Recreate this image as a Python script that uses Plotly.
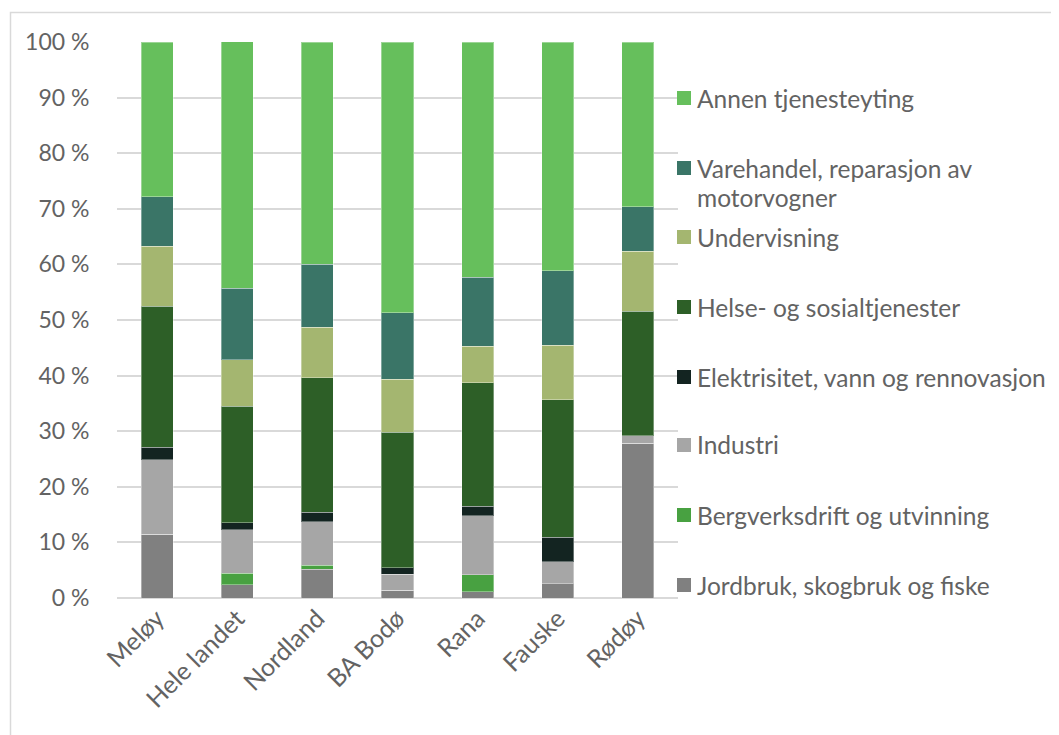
import plotly.graph_objects as go

categories = ["Meløy", "Hele landet", "Nordland", "BA Bodø", "Rana", "Fauske", "Rødøy"]

series_names = [
    "Jordbruk, skogbruk og fiske",
    "Bergverksdrift og utvinning",
    "Industri",
    "Elektrisitet, vann og rennovasjon",
    "Helse- og sosialtjenester",
    "Undervisning",
    "Varehandel, reparasjon av motorvogner",
    "Annen tjenesteyting",
]

jordbruk = [11.5, 2.35, 5.2, 1.4, 1.1, 2.6, 27.8]
bergverk = [0.0, 2.1, 0.7, 0.0, 3.1, 0.0, 0.0]
industri = [13.4, 7.8, 7.8, 2.9, 10.6, 3.9, 1.4]
elektrisitet = [2.2, 1.3, 1.7, 1.1, 1.7, 4.4, 0.0]
helse = [25.4, 20.9, 24.2, 24.4, 22.2, 24.8, 22.4]
undervisning = [10.8, 8.4, 9.1, 9.5, 6.6, 9.8, 10.8]
varehandel = [8.9, 12.9, 11.3, 12.0, 12.4, 13.4, 8.0]
annen = [27.8, 44.3, 40.0, 48.7, 42.3, 41.1, 29.6]

values = [jordbruk, bergverk, industri, elektrisitet, helse, undervisning, varehandel, annen]
colors = ["#808080", "#48A141", "#A6A6A6", "#132421", "#2D5F27", "#A4B670", "#3A7567", "#66BF5C"]

y_ticks = [0, 10, 20, 30, 40, 50, 60, 70, 80, 90, 100]
y_tick_labels = [f"{t} %" for t in y_ticks]

legend_lines = [
    ["Annen tjenesteyting"],
    ["Varehandel, reparasjon av", "motorvogner"],
    ["Undervisning"],
    ["Helse- og sosialtjenester"],
    ["Elektrisitet, vann og rennovasjon"],
    ["Industri"],
    ["Bergverksdrift og utvinning"],
    ["Jordbruk, skogbruk og fiske"],
]
legend_colors = colors[::-1]

# page body has an 8px margin; work in window coordinates and offset
OFF = 8
W, H = 1059 - OFF, 735 - OFF
L, R, T, B = 117 - OFF, 381, 42 - OFF, 137
PW, PH = W - L - R, H - T - B
TEXT = "#636363"
FONT = "Lato"


def px(x):
    return (x - OFF - L) / PW


def py(y):
    return (H - B - (y - OFF)) / PH


fig = go.Figure()
for name, vals, col in zip(series_names, values, colors):
    fig.add_trace(go.Bar(
        x=categories, y=[v / 100 for v in vals], name=name,
        marker=dict(color=col, line=dict(color="rgba(255,255,255,0.35)", width=1)),
        showlegend=False,
    ))

shapes = []
annotations = []
# outer chart border
shapes.append(dict(type="rect", xref="paper", yref="paper",
                   x0=px(10.5), x1=px(1058), y0=py(12.5), y1=py(745),
                   line=dict(color="#D9D9D9", width=1.5), fillcolor="rgba(0,0,0,0)", layer="below"))

legend_y = [98, 168, 237, 307, 377, 445, 515, 585]
for lines, col, yc in zip(legend_lines, legend_colors, legend_y):
    shapes.append(dict(type="rect", xref="paper", yref="paper",
                       x0=px(677), x1=px(691), y0=py(yc - 7), y1=py(yc + 7),
                       line=dict(width=0), fillcolor=col))
    for k, line in enumerate(lines):
        annotations.append(dict(xref="paper", yref="paper", x=px(695), y=py(yc + k * 29),
                                xanchor="left", yanchor="middle", text=line, showarrow=False,
                                font=dict(family=FONT, size=24.5, color=TEXT)))

fig.update_layout(
    width=W, height=H,
    margin=dict(l=L, r=R, t=T, b=B, pad=0),
    barmode="stack", bargap=0.6,
    plot_bgcolor="white", paper_bgcolor="white",
    font=dict(family=FONT, size=22, color=TEXT),
    shapes=shapes, annotations=annotations,
    showlegend=False,
    xaxis=dict(tickangle=-45, showgrid=False, showline=False, ticks="",
               tickfont=dict(family=FONT, size=25, color=TEXT)),
    yaxis=dict(range=[0, 1], tickvals=[t / 100 for t in y_ticks], ticktext=y_tick_labels,
               showgrid=True, gridcolor="#D9D9D9", gridwidth=1.5,
               zeroline=True, zerolinecolor="#D9D9D9", zerolinewidth=1.5,
               showline=False, ticks="outside", ticklen=22, tickcolor="rgba(0,0,0,0)",
               tickfont=dict(family=FONT, size=23, color=TEXT)),
)

fig.write_html("out.html")
